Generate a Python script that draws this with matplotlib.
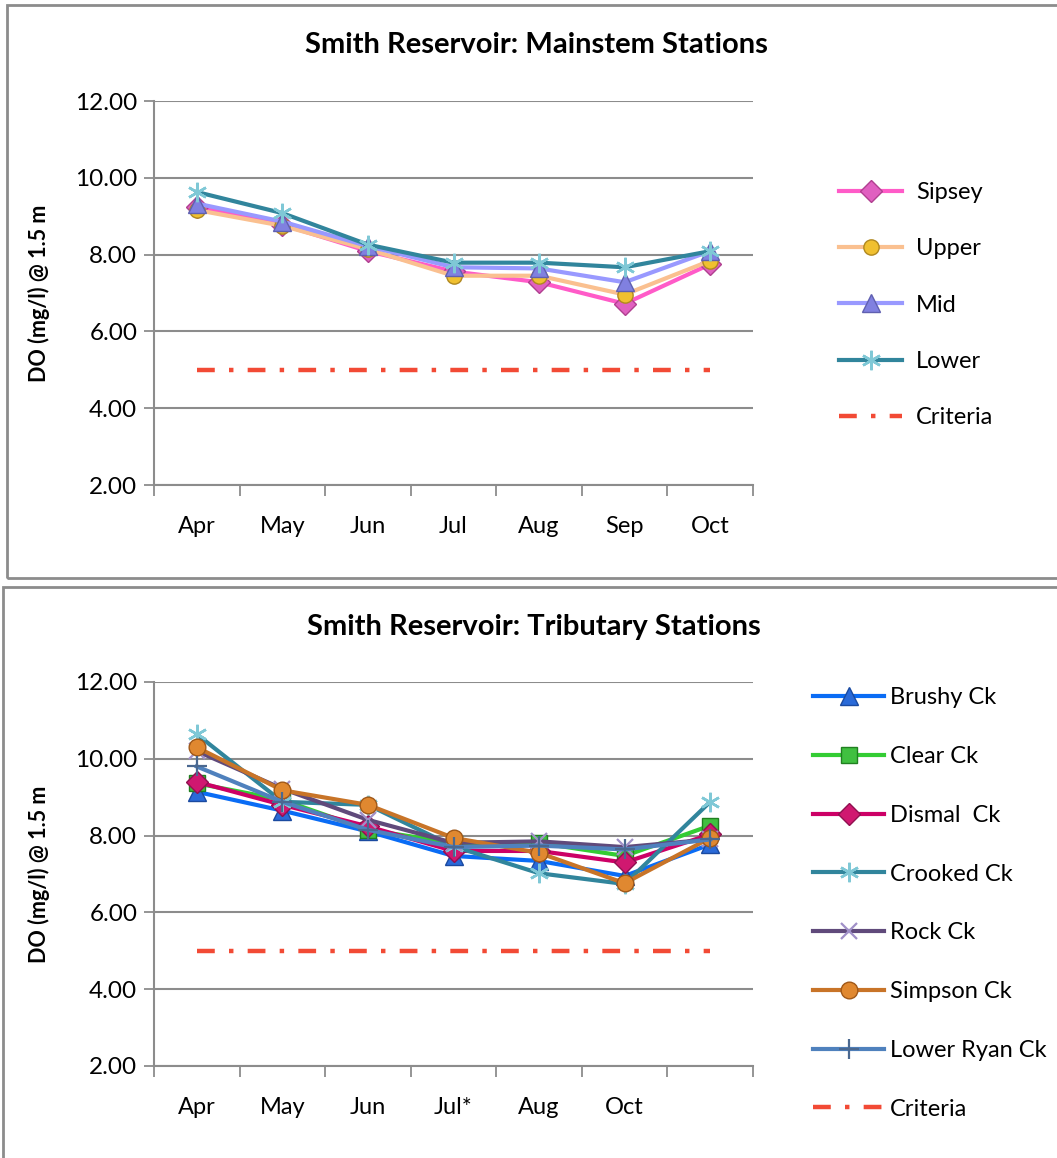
import matplotlib.pyplot as plt
from matplotlib.patches import Rectangle
import numpy as np

plt.rcParams['font.family'] = ['Lato', 'DejaVu Sans']

# mainstem stations (DO mg/l at 1.5 m)
main_months = ['Apr', 'May', 'Jun', 'Jul', 'Aug', 'Sep', 'Oct']
sipsey = [9.25, 8.78, 8.09, 7.56, 7.28, 6.72, 7.75]
upper = [9.16, 8.75, 8.14, 7.45, 7.45, 6.96, 7.84]
mid = [9.33, 8.86, 8.22, 7.67, 7.64, 7.28, 8.09]
lower = [9.63, 9.08, 8.26, 7.79, 7.79, 7.67, 8.09]

# tributary stations
trib_months = ['Apr', 'May', 'Jun', 'Jul*', 'Aug', 'Oct', '']
brushy = [9.14, 8.65, 8.11, 7.47, 7.34, 6.95, 7.77]
clear = [9.36, 8.93, 8.15, 7.81, 7.81, 7.47, 8.26]
dismal = [9.40, 8.80, 8.24, 7.60, 7.60, 7.30, 8.03]
crooked = [10.64, 8.88, 8.80, 7.72, 7.02, 6.74, 8.88]
rock = [10.20, 9.22, 8.41, 7.81, 7.85, 7.70, 7.90]
simpson = [10.30, 9.18, 8.80, 7.94, 7.55, 6.76, 7.94]
lower_ryan = [9.80, 8.88, 8.15, 7.70, 7.74, 7.64, 7.90]

criteria = 5.0
yticks = [2, 4, 6, 8, 10, 12]

W, H = 1057, 1158
fig = plt.figure(figsize=(W / 100, H / 100), dpi=100)


def px_axes(x0, y0, x1, y1):
    return fig.add_axes([x0 / W, 1 - y1 / H, (x1 - x0) / W, (y1 - y0) / H])


def setup_axes(ax, labels):
    n = len(labels)
    ax.set_xlim(-0.5, n - 0.5)
    ax.set_ylim(2, 12)
    ax.set_yticks(yticks)
    ax.set_yticklabels(['%.2f' % v for v in yticks], fontsize=17.5)
    ax.set_xticks(range(n))
    ax.set_xticklabels(labels, fontsize=17)
    ax.set_xticks(np.arange(-0.5, n, 1.0), minor=True)
    ax.tick_params(axis='x', which='major', length=0, pad=22)
    ax.tick_params(axis='x', which='minor', length=8, width=1.3, color='#8c8c8c', direction='out')
    ax.tick_params(axis='y', length=7, width=1.3, color='#8c8c8c', pad=5)
    ax.grid(axis='y', color='#8c8c8c', linewidth=1.5)
    ax.set_axisbelow(True)
    for s in ['top', 'right']:
        ax.spines[s].set_visible(False)
    for s in ['left', 'bottom']:
        ax.spines[s].set_color('#8c8c8c')
        ax.spines[s].set_linewidth(1.5)
    ax.set_ylabel('DO (mg/l) @ 1.5 m', fontsize=15.5, fontweight='bold', labelpad=18)


def criteria_line(ax, n):
    ax.plot(range(n), [criteria] * n, color='#f24a35', linewidth=3.2,
            dashes=(4, 3.2, 1, 3.2), label='Criteria')


# panel borders
fig.patches.append(Rectangle((7 / W, 1 - 578 / H), 1.1, 573 / H, transform=fig.transFigure,
                             fill=False, edgecolor='#8c8c8c', linewidth=2))
fig.patches.append(Rectangle((3 / W, -0.1), 1.1, 1 - 587 / H + 0.1, transform=fig.transFigure,
                             fill=False, edgecolor='#8c8c8c', linewidth=2))

# top chart
ax1 = px_axes(154, 101, 753, 485)
x = range(len(main_months))
ax1.plot(x, sipsey, color='#ff5bc8', linewidth=3, marker='D', markersize=11,
         markerfacecolor='#e060c0', markeredgecolor='#b04090', label='Sipsey')
ax1.plot(x, upper, color='#fac090', linewidth=3, marker='o', markersize=11,
         markerfacecolor='#f0c030', markeredgecolor='#b08820', label='Upper')
ax1.plot(x, mid, color='#9999ff', linewidth=3, marker='^', markersize=13,
         markerfacecolor='#8080e0', markeredgecolor='#6060b0', label='Mid')
ax1.plot(x, lower, color='#31859c', linewidth=3, marker=(6, 2, 0), markersize=14,
         markeredgecolor='#7fc8d6', markeredgewidth=1.8, label='Lower')
criteria_line(ax1, len(main_months))
setup_axes(ax1, main_months)
fig.text(536 / W, 1 - 45 / H, 'Smith Reservoir: Mainstem Stations', ha='center', va='center',
         fontsize=21, fontweight='bold')
fig.legend(*ax1.get_legend_handles_labels(), loc='upper left',
           bbox_to_anchor=(818 / W, 1 - 161 / H), frameon=False, fontsize=17,
           labelspacing=1.49, handlelength=2.65, handletextpad=0.6)

# bottom chart
ax2 = px_axes(154, 682, 753, 1066)
x = range(len(trib_months))
ax2.plot(x, brushy, color='#0a6cf5', linewidth=3, marker='^', markersize=13,
         markerfacecolor='#2a6ad8', markeredgecolor='#1a4aa0', label='Brushy Ck')
ax2.plot(x, clear, color='#33cc33', linewidth=3, marker='s', markersize=11,
         markerfacecolor='#40c040', markeredgecolor='#208020', label='Clear Ck')
ax2.plot(x, dismal, color='#cc0066', linewidth=3, marker='D', markersize=11,
         markerfacecolor='#d01870', markeredgecolor='#901050', label='Dismal  Ck')
ax2.plot(x, crooked, color='#31859c', linewidth=3, marker=(6, 2, 0), markersize=14,
         markeredgecolor='#7fc8d6', markeredgewidth=1.8, label='Crooked Ck')
ax2.plot(x, rock, color='#604a7b', linewidth=3, marker='x', markersize=11,
         markeredgecolor='#a090c8', markeredgewidth=1.6, label='Rock Ck')
ax2.plot(x, simpson, color='#c87428', linewidth=3, marker='o', markersize=12,
         markerfacecolor='#e08830', markeredgecolor='#a05818', label='Simpson Ck')
ax2.plot(x, lower_ryan, color='#4f81bd', linewidth=3, marker='+', markersize=14,
         markeredgecolor='#4a6890', markeredgewidth=1.6, label='Lower Ryan Ck')
criteria_line(ax2, len(trib_months))
setup_axes(ax2, trib_months)
fig.text(534 / W, 1 - 627 / H, 'Smith Reservoir: Tributary Stations', ha='center', va='center',
         fontsize=21, fontweight='bold')
fig.legend(*ax2.get_legend_handles_labels(), loc='upper left',
           bbox_to_anchor=(792 / W, 1 - 666 / H), frameon=False, fontsize=17,
           labelspacing=1.6, handlelength=3.0, handletextpad=0.25)

fig.savefig('out.png', dpi=100)
